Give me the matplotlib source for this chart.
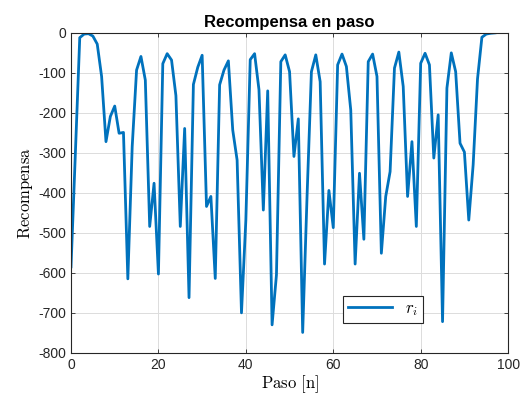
import numpy as np
import matplotlib
matplotlib.use("Agg")
import matplotlib.pyplot as plt

# Datos: recompensa por paso
paso = np.arange(98)
recompensa = [
    -585, -300, -12, -3, -2, -8, -28, -109, -272, -209,
    -183, -251, -249, -615, -284, -93, -59, -118, -484, -376,
    -603, -77, -52, -68, -157, -484, -239, -662, -129, -86,
    -56, -434, -409, -614, -130, -93, -70, -243, -318, -700,
    -468, -67, -52, -142, -443, -145, -730, -605, -72, -55,
    -97, -309, -215, -749, -409, -97, -55, -122, -578, -394,
    -487, -80, -53, -84, -193, -578, -351, -516, -72, -53,
    -109, -551, -409, -347, -88, -48, -134, -409, -272, -484,
    -76, -51, -80, -313, -205, -722, -138, -50, -97, -276,
    -298, -468, -330, -115, -11, -3, -1, 0,
]
xticks = [0, 20, 40, 60, 80, 100]
yticks = [0, -100, -200, -300, -400, -500, -600, -700, -800]

plt.rcParams['font.family'] = ['Liberation Sans', 'DejaVu Sans']
plt.rcParams['mathtext.fontset'] = 'cm'
plt.rcParams['axes.unicode_minus'] = False

fig = plt.figure(figsize=(5.26, 3.96), dpi=100)
ax = fig.add_axes([0.135, 0.109, 0.831, 0.808])

ax.plot(paso, recompensa, color='#0072BD', linewidth=2.0, label=r'$r_i$')

ax.set_xlim(0, 100)
ax.set_ylim(-800, 0)
ax.set_xticks(xticks)
ax.set_yticks(yticks)
ax.tick_params(direction='in', top=True, right=True, labelsize=10,
               colors='#262626', length=3, width=0.6)
for s in ax.spines.values():
    s.set_color('#262626')
    s.set_linewidth(0.8)
ax.grid(True, color='#dcdcdc', linewidth=0.7)
ax.set_axisbelow(True)

ax.set_title("Recompensa en paso", fontsize=12, fontweight='bold', pad=4)
ax.set_xlabel(r'$\mathrm{Paso\ [n]}$', fontsize=12, labelpad=1)
ax.set_ylabel(r'$\mathrm{Recompensa}$', fontsize=12, labelpad=2)

leg = ax.legend(loc='center', bbox_to_anchor=(0.714, 0.136), fancybox=False,
                edgecolor='#262626', framealpha=1, fontsize=12,
                handlelength=2.6, borderpad=0.3)
leg.get_frame().set_linewidth(0.8)

plt.savefig("out.png", dpi=100)
